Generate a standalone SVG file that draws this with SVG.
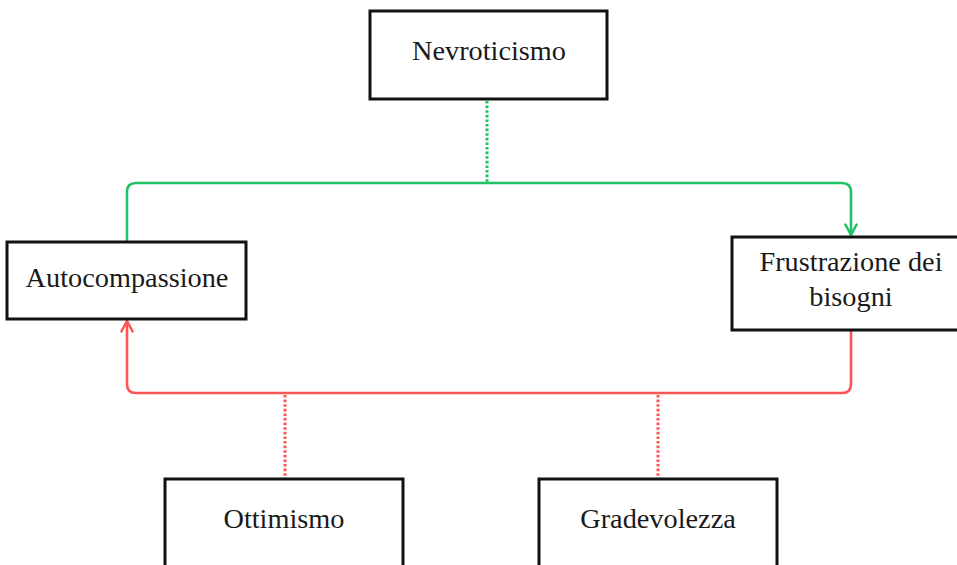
<svg xmlns="http://www.w3.org/2000/svg" width="957" height="565" viewBox="0 0 957 565">
<defs>
<style>
.box{fill:#fff;stroke:#111;stroke-width:3}
.lbl{font-family:"Liberation Serif","Times New Roman",serif;font-size:28.3px;fill:#1a1a1a;text-anchor:middle}
.g{fill:none;stroke:#1fc264;stroke-width:2.6;stroke-linejoin:round}
.r{fill:none;stroke:#ff5454;stroke-width:2.6;stroke-linejoin:round}
.dot{stroke-width:3;stroke-dasharray:2.6 2}
</style>
<marker id="ag" viewBox="0 0 10 10" refX="9" refY="5" markerWidth="14" markerHeight="14" markerUnits="userSpaceOnUse" orient="auto">
<path d="M1.5,1 L9,5 L1.5,9" fill="none" stroke="#1fc264" stroke-width="1.8" stroke-linecap="round" stroke-linejoin="round"/>
</marker>
<marker id="ar" viewBox="0 0 10 10" refX="9" refY="5" markerWidth="14" markerHeight="14" markerUnits="userSpaceOnUse" orient="auto">
<path d="M1.5,1 L9,5 L1.5,9" fill="none" stroke="#ff5454" stroke-width="1.8" stroke-linecap="round" stroke-linejoin="round"/>
</marker>
</defs>
<rect width="957" height="565" fill="#fff"/>
<g id="connectors">
<path class="g" d="M127,242 V192 Q127,183 136,183 H842 Q851,183 851,192 V235" marker-end="url(#ag)"/>
<path class="g dot" d="M487,101 V182"/>
<path class="r" d="M851,331 V384 Q851,393 842,393 H136 Q127,393 127,384 V321" marker-end="url(#ar)"/>
<path class="r dot" d="M285,395 V478"/>
<path class="r dot" d="M658,395 V478"/>
</g>
<g id="nevroticismo">
<rect class="box" x="370" y="11" width="237" height="88"/>
<text class="lbl" x="489" y="60">Nevroticismo</text>
</g>
<g id="autocompassione">
<rect class="box" x="7" y="242" width="239" height="77"/>
<text class="lbl" x="127" y="287">Autocompassione</text>
</g>
<g id="frustrazione">
<rect class="box" x="732" y="237" width="240" height="93"/>
<text class="lbl" x="851" y="271">Frustrazione dei</text>
<text class="lbl" x="851" y="306">bisogni</text>
</g>
<g id="ottimismo">
<rect class="box" x="165" y="479" width="238" height="100"/>
<text class="lbl" x="284" y="528">Ottimismo</text>
</g>
<g id="gradevolezza">
<rect class="box" x="539" y="479" width="238" height="100"/>
<text class="lbl" x="658" y="528">Gradevolezza</text>
</g>
</svg>
